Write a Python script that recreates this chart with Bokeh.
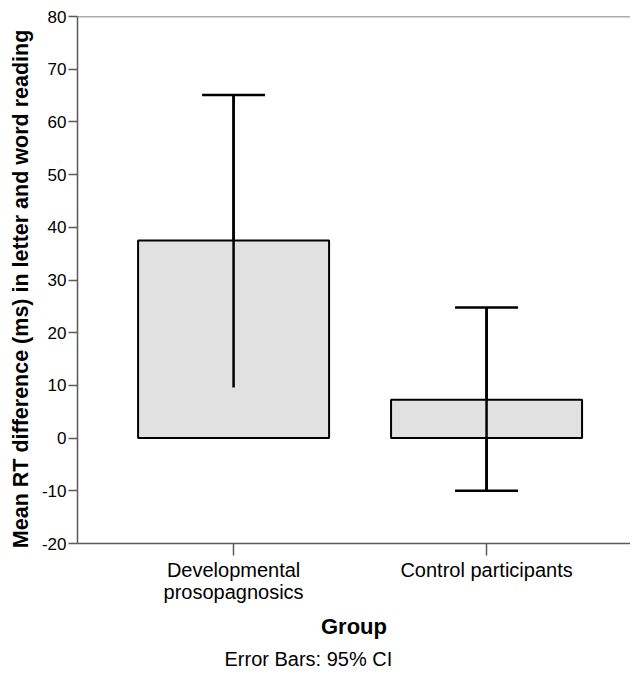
from bokeh.plotting import figure
from bokeh.models import Range1d, FixedTicker, Span, Title, Whisker, ColumnDataSource
from bokeh.embed import file_html
from bokeh.resources import INLINE

groups = ["Developmental\nprosopagnosics", "Control participants"]
group_pos = [1, 2]
means = [37.5, 7.3]
ci_upper = [65.1, 24.8]
ci_lower = [9.6, -10.0]
y_ticks = [-20, -10, 0, 10, 20, 30, 40, 50, 60, 70, 80]
y_tick_labels = ["-20", "-10", "0", "10", "20", "30", "40", "50", "60", "70", "80"]

FONT = "Liberation Sans"
AXIS_COLOR = "#5a5a5a"

p = figure(width=630, height=677, output_backend="svg", toolbar_location=None,
           x_range=Range1d(0.383, 2.569), y_range=Range1d(-20, 80),
           min_border_left=77, min_border_top=16, min_border_right=0, min_border_bottom=134)
p.outline_line_color = None
p.grid.grid_line_color = None
p.background_fill_color = "white"
p.border_fill_color = "white"

src = ColumnDataSource(dict(x=group_pos, top=means, upper=ci_upper, lower=ci_lower))
p.vbar(x="x", top="top", bottom=0, width=0.755, source=src,
       fill_color="#e1e1e1", line_color="black", line_width=2)
p.segment(x0="x", y0="lower", x1="x", y1="upper", source=src, line_color="black", line_width=2.5)
w = Whisker(base="x", upper="upper", lower="lower", source=src, dimension="height",
            line_color="black", line_width=2.5)
for head in (w.upper_head, w.lower_head):
    head.size = 63
    head.line_width = 2.5
    head.line_color = "black"
p.add_layout(w)

p.add_layout(Span(location=80, dimension="width", line_color=AXIS_COLOR, line_width=1.5))

p.yaxis.ticker = FixedTicker(ticks=y_ticks)
p.yaxis.major_label_overrides = {t: lab for t, lab in zip(y_ticks, y_tick_labels)}
p.yaxis.minor_tick_line_color = None
p.yaxis.major_tick_out = 9
p.yaxis.major_tick_in = 0
p.yaxis.axis_line_color = AXIS_COLOR
p.yaxis.axis_line_width = 1.5
p.yaxis.major_tick_line_color = AXIS_COLOR
p.yaxis.major_tick_line_width = 1.5
p.yaxis.major_label_text_font = FONT
p.yaxis.major_label_text_font_size = "17px"
p.yaxis.major_label_text_color = "black"
p.yaxis.major_label_standoff = 2
p.yaxis.axis_label = "Mean RT difference (ms) in letter and word reading\u00a0\u00a0\u00a0"
p.yaxis.axis_label_text_font = FONT
p.yaxis.axis_label_text_font_size = "21.5px"
p.yaxis.axis_label_text_font_style = "bold"
p.yaxis.axis_label_text_color = "black"
p.yaxis.axis_label_standoff = 6

p.xaxis.ticker = FixedTicker(ticks=group_pos)
p.xaxis.major_label_overrides = {pos: lab for pos, lab in zip(group_pos, groups)}
p.xaxis.minor_tick_line_color = None
p.xaxis.major_tick_out = 12
p.xaxis.major_tick_in = 0
p.xaxis.axis_line_color = AXIS_COLOR
p.xaxis.axis_line_width = 1.5
p.xaxis.major_tick_line_color = AXIS_COLOR
p.xaxis.major_tick_line_width = 1.5
p.xaxis.major_label_text_font = FONT
p.xaxis.major_label_text_font_size = "20px"
p.xaxis.major_label_text_color = "black"
p.xaxis.major_label_text_line_height = 1.0
p.xaxis.major_label_standoff = 3
p.xaxis.axis_label = "Group"
p.xaxis.axis_label_text_font = FONT
p.xaxis.axis_label_text_font_size = "22px"
p.xaxis.axis_label_text_font_style = "bold"
p.xaxis.axis_label_text_color = "black"
p.xaxis.axis_label_standoff = 8

note = Title(text="Error Bars: 95% CI", align="left", offset=147, standoff=12,
             vertical_align="top",
             text_font=FONT, text_font_size="20px", text_font_style="normal", text_color="black")
p.add_layout(note, "below")

open("out.html", "w").write(file_html(p, INLINE))
